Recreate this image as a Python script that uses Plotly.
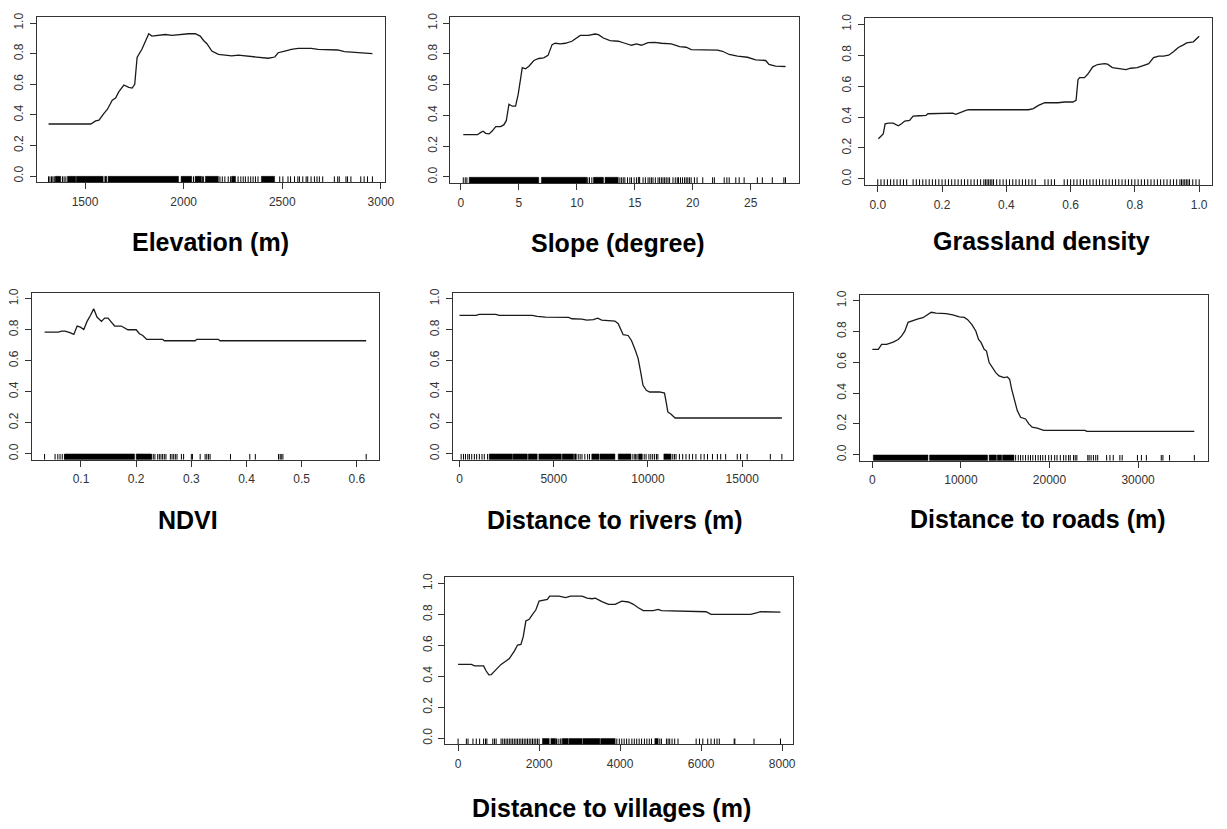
import plotly.graph_objects as go

# ---------------- data ----------------
elev_x = [1315, 1529, 1554, 1571, 1596, 1613, 1638, 1655, 1671, 1697, 1722, 1739, 1752, 1764, 1789, 1823,
          1839, 1873, 1907, 1941, 1975, 2025, 2059, 2084, 2101, 2118, 2143, 2176, 2210, 2244, 2277, 2311,
          2345, 2395, 2429, 2462, 2479, 2513, 2546, 2580, 2647, 2681, 2781, 2815, 2882, 2916, 2957]
elev_y = [0.34, 0.34, 0.36, 0.365, 0.41, 0.435, 0.495, 0.51, 0.55, 0.595, 0.58, 0.575, 0.60, 0.775, 0.83, 0.93,
          0.915, 0.92, 0.925, 0.92, 0.925, 0.93, 0.93, 0.915, 0.886, 0.865, 0.817, 0.795, 0.79, 0.785, 0.79, 0.785,
          0.778, 0.774, 0.77, 0.778, 0.806, 0.817, 0.828, 0.834, 0.834, 0.828, 0.824, 0.813, 0.806, 0.802, 0.80]
elev_rug = [1315, 1322, 1330, 1337, 1344, 1386, 1394, 1403, 2050, 2095, 2100, 2184, 2196, 2209, 2226, 2238,
            2276, 2290, 2302, 2313, 2327, 2340, 2352, 2364, 2377, 2487, 2503, 2529, 2542, 2562, 2579, 2587,
            2604, 2621, 2629, 2646, 2663, 2676, 2688, 2705, 2764, 2781, 2789, 2823, 2831, 2848, 2898, 2915,
            2932, 2957]
elev_bands = [[1349, 1377], [1411, 1453], [1456, 1592], [1600, 1610], [1617, 1974], [1987, 2041],
              [2058, 2090], [2110, 2176], [2243, 2263], [2394, 2461]]

slope_x = [0.2, 1.43, 1.71, 1.91, 2.14, 2.43, 2.71, 3.0, 3.43, 3.71, 3.91, 4.14, 4.43, 4.71, 4.94, 5.14,
           5.29, 5.57, 5.86, 6.29, 6.71, 7.14, 7.51, 7.86, 8.14, 8.57, 9.0, 9.57, 10.0, 10.29, 11.0, 11.57,
           11.86, 12.29, 12.86, 13.57, 14.14, 14.71, 15.14, 15.57, 16.14, 16.71, 17.29, 18.14, 18.86, 19.43,
           19.86, 20.43, 22.14, 22.57, 23.14, 23.86, 24.71, 25.43, 26.29, 26.57, 27.14, 28.0]
slope_y = [0.275, 0.275, 0.29, 0.297, 0.284, 0.28, 0.30, 0.327, 0.327, 0.34, 0.366, 0.473, 0.46, 0.46, 0.538,
           0.624, 0.71, 0.703, 0.72, 0.757, 0.77, 0.774, 0.79, 0.86, 0.869, 0.865, 0.869, 0.882, 0.903, 0.92,
           0.92, 0.929, 0.925, 0.903, 0.886, 0.882, 0.869, 0.856, 0.865, 0.856, 0.873, 0.875, 0.869, 0.865,
           0.847, 0.843, 0.828, 0.826, 0.824, 0.817, 0.796, 0.785, 0.778, 0.761, 0.757, 0.731, 0.72, 0.718]
slope_rug = [0.2, 0.37, 0.51, 10.94, 11.09, 11.29, 13.71, 13.86, 14.0, 14.14, 14.37, 14.57, 14.71, 14.94,
             15.14, 15.71, 15.91, 16.14, 16.29, 16.43, 16.57, 16.77, 17.0, 17.14, 17.29, 17.43, 17.57, 17.71,
             17.86, 18.0, 18.29, 18.49, 18.66, 18.77, 18.94, 19.11, 19.29, 19.43, 19.57, 19.71, 19.86, 20.14,
             20.37, 20.86, 21.71, 21.86, 22.71, 22.94, 23.14, 23.71, 24.0, 24.43, 25.57, 26.0, 26.86, 27.86, 28.0]
slope_bands = [[0.71, 6.71], [6.94, 10.86], [11.43, 12.29], [12.43, 13.57], [15.29, 15.43]]

grass_x = [0.002, 0.012, 0.017, 0.023, 0.033, 0.048, 0.064, 0.074, 0.084, 0.099, 0.11, 0.13, 0.15, 0.156,
           0.18, 0.207, 0.233, 0.243, 0.258, 0.274, 0.284, 0.315, 0.346, 0.356, 0.417, 0.469, 0.484, 0.5,
           0.52, 0.561, 0.581, 0.607, 0.617, 0.623, 0.628, 0.643, 0.653, 0.669, 0.684, 0.705, 0.715, 0.73,
           0.751, 0.772, 0.787, 0.807, 0.828, 0.843, 0.858, 0.874, 0.889, 0.905, 0.92, 0.935, 0.951, 0.961,
           0.982, 1.0]
grass_y = [0.259, 0.279, 0.29, 0.356, 0.36, 0.36, 0.343, 0.356, 0.374, 0.378, 0.406, 0.408, 0.41, 0.421,
           0.421, 0.425, 0.425, 0.417, 0.43, 0.443, 0.447, 0.447, 0.443, 0.447, 0.447, 0.447, 0.454, 0.475,
           0.492, 0.492, 0.497, 0.497, 0.508, 0.641, 0.654, 0.654, 0.676, 0.724, 0.739, 0.745, 0.741, 0.719,
           0.713, 0.706, 0.715, 0.719, 0.734, 0.745, 0.784, 0.793, 0.793, 0.799, 0.821, 0.849, 0.866, 0.879,
           0.886, 0.922]
grass_rug = [0.0, 0.01, 0.02, 0.03, 0.04, 0.05, 0.06, 0.07, 0.08, 0.09,
             0.11, 0.12, 0.13, 0.14, 0.15, 0.16, 0.17, 0.18, 0.19, 0.2, 0.21, 0.22, 0.23, 0.24, 0.25, 0.26,
             0.27, 0.28, 0.29, 0.3, 0.31, 0.32, 0.33, 0.335, 0.34, 0.345, 0.35, 0.355, 0.36, 0.37, 0.38, 0.39,
             0.4, 0.41, 0.42, 0.43, 0.44, 0.45, 0.46, 0.47, 0.48, 0.49,
             0.52, 0.53, 0.54, 0.55,
             0.58, 0.59, 0.6, 0.61, 0.62, 0.63, 0.64, 0.65, 0.66, 0.67, 0.68, 0.69, 0.7, 0.71, 0.72, 0.73,
             0.74, 0.75, 0.76, 0.77, 0.78, 0.79, 0.8, 0.81, 0.82, 0.83, 0.84, 0.85, 0.86, 0.87, 0.88, 0.89,
             0.9, 0.91, 0.92, 0.93, 0.94, 0.945, 0.95, 0.955, 0.96, 0.965, 0.97, 0.98, 0.99, 1.0]
grass_bands = []

ndvi_x = [0.034, 0.059, 0.065, 0.071, 0.080, 0.087, 0.093, 0.099, 0.105, 0.111, 0.117, 0.123, 0.129, 0.137,
          0.143, 0.149, 0.155, 0.161, 0.173, 0.185, 0.20, 0.206, 0.212, 0.219, 0.248, 0.251, 0.307, 0.31,
          0.349, 0.352, 0.617]
ndvi_y = [0.785, 0.785, 0.791, 0.791, 0.781, 0.77, 0.824, 0.817, 0.802, 0.854, 0.892, 0.935, 0.882, 0.854,
          0.875, 0.875, 0.849, 0.824, 0.824, 0.80, 0.80, 0.774, 0.763, 0.738, 0.738, 0.729, 0.729, 0.738,
          0.738, 0.729, 0.729]
ndvi_rug = [0.034, 0.053, 0.058, 0.062, 0.066, 0.070, 0.228, 0.231, 0.234, 0.239, 0.242, 0.245, 0.248, 0.251,
            0.254, 0.262, 0.265, 0.268, 0.271, 0.274, 0.282, 0.286, 0.300, 0.302, 0.316, 0.325, 0.328, 0.331,
            0.334, 0.371, 0.406, 0.416, 0.458, 0.461, 0.463, 0.466, 0.617]
ndvi_bands = [[0.071, 0.197], [0.2, 0.227]]

river_x = [0, 877, 1053, 1930, 2105, 3860, 4123, 4561, 5789, 5965, 6491, 6754, 7105, 7333, 7544, 7982, 8246,
           8421, 8561, 8684, 8947, 9123, 9298, 9474, 9614, 9737, 9912, 10088, 10614, 10877, 10965, 11053,
           11228, 11439, 17105]
river_y = [0.893, 0.893, 0.899, 0.899, 0.893, 0.893, 0.886, 0.882, 0.88, 0.871, 0.869, 0.862, 0.865, 0.875,
           0.862, 0.86, 0.856, 0.839, 0.806, 0.768, 0.763, 0.731, 0.677, 0.617, 0.527, 0.441, 0.409, 0.398,
           0.398, 0.391, 0.333, 0.269, 0.254, 0.23, 0.23]
river_rug = [88, 211, 316, 439, 526, 649, 789, 912, 1053, 1193, 1316, 1491, 6300, 6400, 6500, 6650, 6800,
             6900, 9200, 9300, 9350, 9420, 9800, 9900, 10050, 10150, 10250, 10350, 10450, 10526, 11316, 11404,
             11491, 11667, 11842, 12018, 12193, 12368, 12544, 12807, 12982, 13158, 13421, 13684, 13860, 14123,
             14737, 14912, 15263, 16491, 17105]
river_bands = [[1579, 2807], [2842, 3596], [3649, 4123], [4211, 5400], [5450, 6053], [6100, 6200],
               [7018, 7400], [7450, 8246], [8421, 9100], [9500, 9700], [10842, 11228]]

road_x = [0, 672, 1046, 1606, 2353, 2914, 3287, 3661, 4034, 4595, 5155, 5715, 6276, 6649, 7210, 8330, 9077,
          9824, 10385, 10758, 11244, 11692, 11991, 12252, 12626, 12887, 13186, 13560, 13933, 14307, 14867,
          15241, 15502, 15727, 15988, 16362, 16735, 17295, 17669, 18043, 18603, 19350, 24019, 24206, 36347]
road_y = [0.684, 0.684, 0.716, 0.716, 0.731, 0.748, 0.77, 0.802, 0.86, 0.873, 0.882, 0.89, 0.914, 0.925, 0.92,
          0.916, 0.908, 0.895, 0.892, 0.877, 0.845, 0.802, 0.748, 0.731, 0.684, 0.673, 0.598, 0.566, 0.533,
          0.512, 0.501, 0.505, 0.49, 0.426, 0.361, 0.286, 0.243, 0.232, 0.20, 0.178, 0.172, 0.157, 0.157,
          0.151, 0.151]
road_rug = [16175, 16474, 16735, 16997, 17295, 17594, 17855, 18117, 18416, 18715, 18977, 19238, 19537, 19911,
            20210, 20584, 20846, 21219, 21593, 21855, 22155, 22341, 22715, 22902, 23089, 24321, 24471, 24695,
            24957, 25218, 25442, 26450, 26823, 27197, 27944, 28206, 29925, 30373, 30934, 32615, 32802, 33549,
            36351]
road_bands = [[112, 6276], [6463, 13000], [13186, 14000], [14100, 14600], [14700, 15988]]

vill_x = [0, 327, 408, 629, 694, 759, 816, 939, 1061, 1184, 1265, 1388, 1469, 1551, 1608, 1673, 1755, 1837,
          1918, 2000, 2082, 2204, 2261, 2490, 2653, 2776, 3061, 3184, 3306, 3388, 3551, 3714, 3878, 3976,
          4041, 4204, 4327, 4449, 4571, 4816, 4939, 5020, 5347, 5429, 6122, 6245, 7224, 7388, 7469, 7959]
vill_y = [0.477, 0.477, 0.467, 0.467, 0.434, 0.409, 0.411, 0.445, 0.477, 0.499, 0.514, 0.563, 0.602, 0.606,
          0.656, 0.757, 0.768, 0.80, 0.828, 0.886, 0.89, 0.897, 0.918, 0.918, 0.908, 0.918, 0.918, 0.905,
          0.901, 0.905, 0.882, 0.865, 0.865, 0.875, 0.886, 0.88, 0.865, 0.843, 0.824, 0.824, 0.832, 0.824,
          0.822, 0.817, 0.817, 0.80, 0.80, 0.811, 0.817, 0.815]
vill_rug = [0, 204, 245, 367, 449, 531, 629, 677, 710, 857, 898, 939, 1061, 1102, 1143, 1184, 1224, 1265,
            1306, 1347, 1388, 1429, 1469, 1510, 1551, 1592, 1633, 1673, 1714, 1755, 1796, 1837, 1878, 1918,
            1959, 2000, 2430, 2470, 2520, 2540, 3918, 3980, 4041, 4100, 4160, 4220, 4290, 4350, 4410, 4470,
            4530, 4600, 4660, 4720, 4775, 4980, 5020, 5143, 5184, 5224, 5282, 5347, 5429, 5877, 5959, 6041,
            6163, 6245, 6327, 6392, 6449, 6816, 6833, 7306, 7959]
vill_bands = [[2082, 2250], [2290, 2410], [2571, 2720], [2740, 3060], [3080, 3500], [3520, 3878],
              [4857, 4940]]

titles = ["Elevation (m)", "Slope (degree)", "Grassland density", "NDVI",
          "Distance to rivers (m)", "Distance to roads (m)", "Distance to villages (m)"]
xticks = [[1500, 2000, 2500, 3000], [0, 5, 10, 15, 20, 25], [0.0, 0.2, 0.4, 0.6, 0.8, 1.0],
          [0.1, 0.2, 0.3, 0.4, 0.5, 0.6], [0, 5000, 10000, 15000], [0, 10000, 20000, 30000],
          [0, 2000, 4000, 6000, 8000]]
yticks = [0.0, 0.2, 0.4, 0.6, 0.8, 1.0]

# ---------------- layout settings ----------------
W, H = 1227, 829
boxes = [(37, 13, 388, 179), (454, 13, 806, 180), (872, 14, 1222, 182),
         (32, 290, 382, 458), (457, 290, 800, 458), (867, 292, 1218, 459),
         (449, 576, 800, 744)]
xranges = [[1255, 3020], [-0.92, 29.2], [-0.04, 1.04], [0.0107, 0.640],
           [-330, 17720], [-1400, 37900], [-315, 8280]]
xfmts = ["d", "d", ".1f", ".1f", "d", "d", "d"]
title_pos = [(212, 239), (623, 240), (1050, 238), (190, 519), (620, 519), (1047, 517), (617, 808)]

series = [(elev_x, elev_y, elev_rug, elev_bands), (slope_x, slope_y, slope_rug, slope_bands),
          (grass_x, grass_y, grass_rug, grass_bands), (ndvi_x, ndvi_y, ndvi_rug, ndvi_bands),
          (river_x, river_y, river_rug, river_bands), (road_x, road_y, road_rug, road_bands),
          (vill_x, vill_y, vill_rug, vill_bands)]

YLO, YHI = -0.04, 1.04
RUG_TOP = YLO + 0.035 * (YHI - YLO)
AX_COLOR = "#333333"
FONT = "Liberation Sans, Arial, sans-serif"

fig = go.Figure()
layout = dict(width=W, height=H, margin=dict(l=0, r=0, t=0, b=0),
              paper_bgcolor="white", plot_bgcolor="white", showlegend=False,
              annotations=[])

for i, ((xs, ys, rug, bands), box) in enumerate(zip(series, boxes)):
    n = "" if i == 0 else str(i + 1)
    xa, ya = "x" + n, "y" + n
    l, t, r, b = box
    # curve
    fig.add_trace(go.Scatter(x=xs, y=ys, mode="lines", xaxis=xa, yaxis=ya,
                             line=dict(color="#1a1a1a", width=1.3), hoverinfo="skip"))
    # rug ticks
    rx, ry = [], []
    for v in rug:
        rx += [v, v, None]
        ry += [YLO, RUG_TOP, None]
    fig.add_trace(go.Scatter(x=rx, y=ry, mode="lines", xaxis=xa, yaxis=ya,
                             line=dict(color="black", width=1), hoverinfo="skip"))
    # dense rug bands (solid runs of ticks)
    for s, e in bands:
        fig.add_trace(go.Scatter(x=[s, e, e, s, s], y=[YLO, YLO, RUG_TOP, RUG_TOP, YLO],
                                 mode="lines", fill="toself", fillcolor="black",
                                 line=dict(color="black", width=0.5), xaxis=xa, yaxis=ya,
                                 hoverinfo="skip"))
    common = dict(showline=True, linecolor=AX_COLOR, linewidth=1, mirror=True, showgrid=False,
                  zeroline=False, ticks="outside", ticklen=6, tickwidth=1, tickcolor=AX_COLOR,
                  tickfont=dict(family=FONT, size=12, color="#333333"))
    layout["xaxis" + n] = dict(domain=[l / W, r / W], range=xranges[i], anchor=ya,
                               tickvals=xticks[i], tickformat=xfmts[i], ticklabelstandoff=2, **common)
    layout["yaxis" + n] = dict(domain=[1 - b / H, 1 - t / H], range=[YLO, YHI], anchor=xa,
                               tickvals=yticks, tickformat=".1f", tickangle=-90,
                               ticklabelstandoff=2, **common)
    tx, ty = title_pos[i]
    layout["annotations"].append(dict(text=titles[i], x=tx / W, y=1 - ty / H, xref="paper", yref="paper",
                                      xanchor="center", yanchor="middle", showarrow=False,
                                      font=dict(family=FONT, size=25, color="black", weight="bold")))

fig.update_layout(**layout)
fig.write_html("out.html", config={"displayModeBar": False},
               post_script="document.body.style.margin='0px';")
